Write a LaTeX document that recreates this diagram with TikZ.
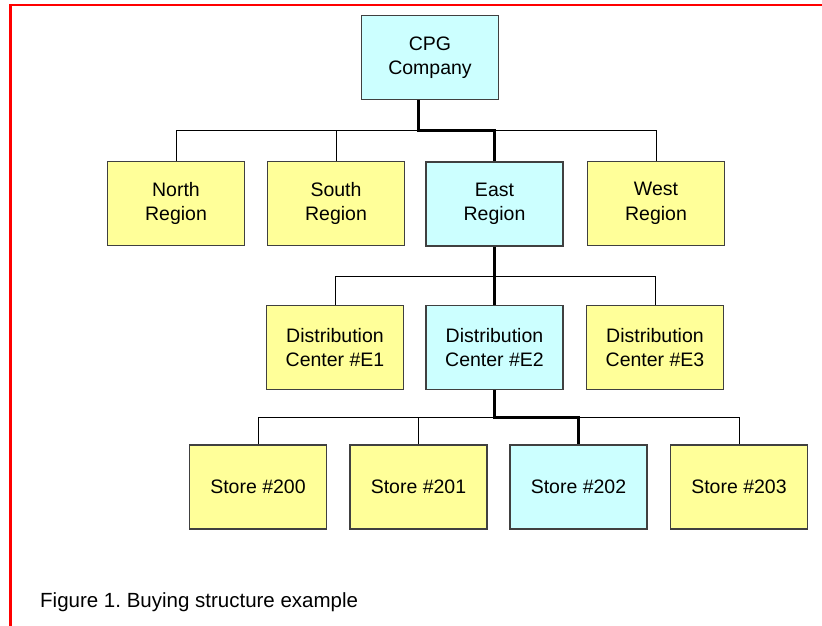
\documentclass[tikz,border=0pt]{standalone}
\usepackage{fontspec}
\setmainfont{Liberation Sans}
\usepackage{tikz}
\frenchspacing
\definecolor{boxyellow}{HTML}{FFFF99}
\definecolor{boxcyan}{HTML}{CCFFFF}
\definecolor{boxedge}{HTML}{404040}
\tikzset{
    unit/.style={ draw=boxedge, line width=1.3pt, minimum width=137pt, minimum height=84pt,
                  inner sep=0pt, align=center, font=\fontsize{19.5}{24.5}\selectfont },
    otherunit/.style={ unit, fill=boxyellow },
    buyunit/.style={ unit, fill=boxcyan },
    link/.style={ black, line width=1pt },
    buyline/.style={ black, line width=3pt }
}

\begin{document}
\begin{tikzpicture}[x=1pt,y=-1pt]
        \useasboundingbox (0,0) rectangle (822,626);
        \draw[red, line width=2.2pt] (10.5,626) -- (10.5,5) -- (822,5);

        % top
        \node[buyunit]   (cpg)   at (430,57.5)  {CPG\\Company};
        % regions
        \node[otherunit] (north) at (176,203.5) {North\\Region};
        \node[otherunit] (south) at (336,203.5) {South\\Region};
        \node[buyunit]   (east)  at (494.5,204) {East\\Region};
        \node[otherunit] (west)  at (656,203.5) {West\\Region};
        % distribution centers
        \node[otherunit] (dce1)  at (335,347.5) {Distribution\\Center \#E1};
        \node[buyunit]   (dce2)  at (494.5,347.5) {Distribution\\Center \#E2};
        \node[otherunit] (dce3)  at (655,347.5) {Distribution\\Center \#E3};
        % stores
        \node[otherunit] (s200)  at (258,487)   {Store \#200};
        \node[otherunit] (s201)  at (418.5,487) {Store \#201};
        \node[buyunit]   (s202)  at (578.5,487) {Store \#202};
        \node[otherunit] (s203)  at (739,487)   {Store \#203};

        \coordinate (bus1) at (0,130);
        \coordinate (bus2) at (0,276);
        \coordinate (bus3) at (0,417);
        \coordinate (cpgstem) at ([xshift=-12pt]cpg.south);

        \draw[link] (north.north) -- (north.north |- bus1) -- (west.north |- bus1) -- (west.north);
        \draw[link] (south.north) -- (south.north |- bus1);
        \draw[link] (dce1.north) -- (dce1.north |- bus2) -- (dce3.north |- bus2) -- (dce3.north);
        \draw[link] (s200.north) -- (s200.north |- bus3) -- (s203.north |- bus3) -- (s203.north);
        \draw[link] (s201.north) -- (s201.north |- bus3);

        \draw[buyline] (cpgstem) -- (cpgstem |- bus1) -- (east.north |- bus1) -- (east.north);
        \draw[buyline] (east.south) -- (dce2.north);
        \draw[buyline] (dce2.south) -- (dce2.south |- bus3) -- (s202.north |- bus3) -- (s202.north);

        \node[anchor=base west, inner sep=0pt, font=\fontsize{20.5}{24}\selectfont] (caption) at (40,607)
            {Figure 1. Buying structure example};
\end{tikzpicture}
\end{document}
